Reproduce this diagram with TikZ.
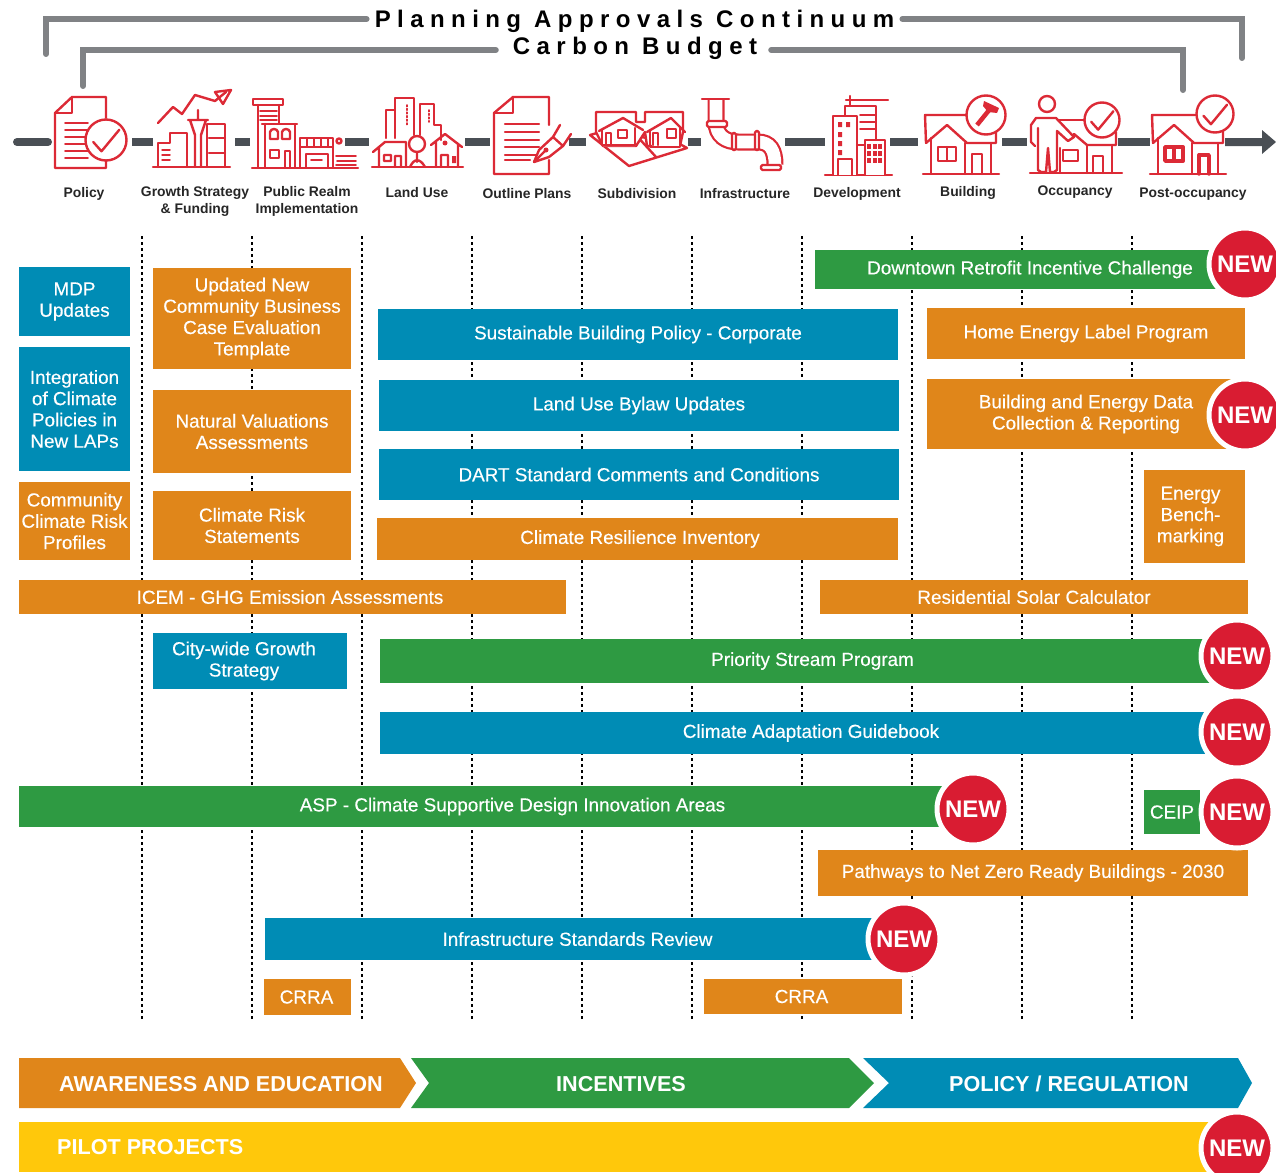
\documentclass[tikz,border=0pt]{standalone}
\usepackage{fontspec}
\setmainfont{Liberation Sans}
\newfontfamily\spaced[LetterSpace=26.8]{Liberation Sans}
\newfontfamily\barfont[FakeBold=0.3]{Liberation Sans}
\definecolor{cOrange}{HTML}{E0861A}
\definecolor{cBlue}{HTML}{008CB5}
\definecolor{cGreen}{HTML}{2E9A42}
\definecolor{cRed}{HTML}{D91C32}
\definecolor{cYellow}{HTML}{FFC80B}
\definecolor{cGrey}{HTML}{808285}
\definecolor{cDark}{HTML}{4A4F55}
\definecolor{cIcon}{HTML}{DC2A36}
\newcommand\fs[2]{\fontsize{#1}{#2}\selectfont}
\tikzset{
  x=1pt,y=-1pt,
  bar/.style={inner sep=0pt,text=white,align=center,font=\fs{18.9}{21.3}\barfont},
  badge/.style={circle,fill=cRed,draw=white,line width=5pt,minimum size=72pt,inner sep=0pt,text=white,font=\fs{24}{24}\bfseries},
  stage/.style={align=center,font=\fs{13.9}{17}\bfseries,text=black!85,inner sep=0pt},
  head/.style={font=\fs{24}{24}\bfseries\spaced,inner sep=0pt,text=black},
  bracket/.style={draw=cGrey,line width=6pt,line cap=round},
  seg/.style={draw=cDark,line width=8pt},
  dots/.style={draw=black,line width=2.8pt,dash pattern=on 3pt off 3pt},
  icon/.style={draw=cIcon,line width=2.4pt,line join=round,line cap=round},
  chev/.style={text=white,font=\fs{21.6}{24}\bfseries,inner sep=0pt},
}
\newcommand\bx[7]{%
  \pgfmathsetmacro\bw{#4-#2}\pgfmathsetmacro\bh{#5-#3}%
  \pgfmathsetmacro\cx{(#2+#4)/2}\pgfmathsetmacro\cy{(#3+#5)/2}%
  \node[bar,fill=#6,minimum width=\bw pt,minimum height=\bh pt] (#1) at (\cx,\cy) {#7};}
\newcommand\chk[3]{%
  \draw[icon,fill=white] (#1,#2) circle (#3);
  \draw[icon] (#1-#3*0.62,#2+#3*0.1) -- (#1-#3*0.22,#2+#3*0.55) -- (#1+#3*0.65,#2-#3*0.5);}
\newcommand\gable{%
  \draw[icon] (923,174) -- (999,174);
  \draw[icon] (926,143) -- (925,115) -- (972,115);
  \draw[icon] (926,143) -- (947,125) -- (967,143) -- (996,143) -- (996,130);
  \draw[icon] (931,138) -- (931,174) (991,143) -- (991,174) (965,143) -- (965,174);
  \draw[icon] (938,147) rectangle (956,161) (947,147) -- (947,161);
  \draw[icon] (972,174) -- (972,154) -- (982,154) -- (982,174);}
\begin{document}
\begin{tikzpicture}
\useasboundingbox (0,0) rectangle (1276,1172);
% vertical dotted guides
\foreach \gx in {142,252,362,472,582,692,802,912,1022,1132}
  \draw[dots] (\gx,236) -- (\gx,1020);
% headings and brackets
\node[head] (plan) at (634.5,21.5) {Planning Approvals Continuum};
\node[head] (carbon) at (635,48.5) {Carbon Budget};
\coordinate (pl) at (46,54);
\coordinate (pr) at (1242,58);
\coordinate (cl) at (83,86);
\coordinate (cr) at (1183,90);
\draw[bracket] (pl) |- ([xshift=-8pt,yshift=2.5pt]plan.west);
\draw[bracket] (pr) |- ([xshift=8pt,yshift=2.5pt]plan.east);
\draw[bracket] (cl) |- ([xshift=-17pt,yshift=-1.5pt]carbon.west);
\draw[bracket] (cr) |- ([xshift=14pt,yshift=-1.5pt]carbon.east);
% timeline
\draw[seg,line cap=round] (17,142) -- (48,142);
\foreach \a/\b in {132/153,235/250,345/369,465/490,569/586,688/701,785/825,890/918,1002/1027,1118/1150}
  \draw[seg] (\a,142) -- (\b,142);
\fill[cDark] (1225,138) -- (1262,138) -- (1262,130) -- (1276,142) -- (1262,154) -- (1262,146) -- (1225,146) -- cycle;
% Policy icon
\draw[icon] (106,118) -- (106,97) -- (72,97) -- (55,113) -- (55,168) -- (106,168) -- (106,160);
\draw[icon] (72,97) -- (72,113) -- (55,113);
\foreach \ly in {123,130,137,144,151,158} \draw[icon,line width=1.6pt] (65,\ly) -- (88,\ly);
\chk{106}{140}{20.5}
% Growth icon
\draw[icon] (158,123) -- (173,107) -- (182,114) -- (195,95) -- (215,101) -- (226,92);
\draw[icon] (215,92) -- (231,90) -- (223,104) -- cycle;
\draw[icon] (153,167) -- (230,167);
\draw[icon] (158,167) -- (158,143) -- (170,143) -- (170,133) -- (187,133) -- (187,167);
\draw[icon,line width=1.5pt] (162,150) -- (170,150) (162,155) -- (170,155) (162,160) -- (170,160);
\draw[icon] (188,120) -- (208,120) (198,110) -- (198,120) (190,120) -- (195,135) -- (195,167) (206,120) -- (201,135) -- (201,167);
\draw[icon] (207,167) -- (207,124) -- (225,124) -- (225,167);
\draw[icon] (209,138) -- (225,138) (209,153) -- (225,153);
% Public realm icon
\draw[icon] (253,99) rectangle (283,105);
\draw[icon] (258,105) -- (258,167) (279,105) -- (279,123);
\draw[icon,line width=1.6pt] (260,111) -- (277,111) (260,116) -- (277,116) (260,120) -- (277,120);
\draw[icon] (262,124) -- (297,124) (265,124) -- (265,167) (295,124) -- (295,167);
\draw[icon] (270,139) -- (270,132) .. controls (271,128) and (277,128) .. (278,132) -- (278,139) -- cycle;
\draw[icon] (282,139) -- (282,132) .. controls (283,128) and (289,128) .. (290,132) -- (290,139) -- cycle;
\draw[icon] (270,150) rectangle (279,158) (285,167) -- (285,151) -- (290,151) -- (290,167);
\draw[icon] (300,138) rectangle (333,147);
\foreach \vx in {307,314,321,328} \draw[icon,line width=1.6pt] (\vx,138) -- (\vx,147);
\draw[icon] (339,141) circle (2.5);
\draw[icon] (300,147) -- (300,167) (333,147) -- (333,167);
\draw[icon,line width=1.6pt] (306,167) -- (306,154) -- (328,154) -- (328,167) (311,160) -- (322,160);
\draw[icon,line width=1.7pt] (336,156) -- (356,156) (337,161) -- (356,161) (336,165) -- (356,165);
\draw[icon] (252,168) -- (358,168);
% Land use icon
\draw[icon] (372,167) -- (463,167);
\draw[icon] (386,138) -- (386,110) -- (395,110) (403,98) -- (414,98) -- (414,135) (395,138) -- (395,98) -- (403,98);
\draw[icon] (420,135) -- (420,104) -- (434,104) -- (434,125) -- (441,125) -- (441,140);
\draw[icon,line width=1.6pt,dotted] (407,105) -- (407,125) (429,110) -- (429,122);
\draw[icon] (373,152) -- (385,142) -- (406,142) -- (406,167) (379,147) -- (379,167) (384,155) rectangle (391,161) (395,167) -- (395,156) -- (401,156) -- (401,167);
\draw[icon] (417,144) circle (8) (417,152) -- (417,162) (410,167) .. controls (414,158) and (420,158) .. (425,167);
\draw[icon] (431,145) -- (445,134) -- (462,147) (436,142) -- (436,167) (458,145) -- (458,167) (441,167) -- (441,155) -- (448,155) -- (448,167);
\fill[cIcon] (445,143) circle (2.5) (452,156) rectangle (456,163);
% Outline plans icon
\draw[icon] (549,160) -- (549,174) -- (494,174) -- (494,113) -- (513,97) -- (549,97) -- (549,125);
\draw[icon] (513,97) -- (513,113) -- (494,113);
\foreach \ly in {124,132,140,147,155} \draw[icon] (505,\ly) -- (539,\ly);
\draw[icon] (505,160) -- (530,160);
\draw[icon,fill=white] (534,162) -- (539,150) -- (553,137) -- (563,146) -- (549,157) -- cycle;
\draw[icon] (534,162) -- (546,150) (553,137) -- (560,125) (563,146) -- (571,134);
\fill[cIcon] (546,150) circle (2.5);
% Subdivision icon
\draw[icon,fill=white] (590,135) -- (629,166) -- (687,148) -- (678,143) -- (604,131) -- cycle;
\draw[icon] (635,134) -- (656,157);
\draw[icon,fill=white] (596,132) -- (596,112) -- (636,112) -- (636,122) -- (645,122) -- (645,112) -- (683,112) -- (683,132) -- (680,146) -- (647,146) -- (645,132) -- (636,146) -- (603,146) -- cycle;
\fill[white] (603,134) rectangle (635,146) (652,134) rectangle (680,146);
\draw[icon] (599,131) -- (623,118) -- (643,130) (647,132) -- (671,118) -- (685,132);
\draw[icon] (602,130) -- (602,145) -- (635,145) -- (635,128);
\draw[icon] (650,130) -- (650,147) -- (680,147) -- (680,128);
\draw[icon] (606,145) -- (606,133) -- (611,133) -- (611,145) (653,145) -- (653,133) -- (658,133) -- (658,145);
\draw[icon] (618,130) rectangle (627,138) (667,129) rectangle (676,138);
% Infrastructure icon
\draw[draw=cIcon,line width=17pt] (716,100) -- (716,122) .. controls (716,136) and (726,142) .. (738,142) -- (758,142) .. controls (770,142) and (775,150) .. (775,165);
\draw[draw=white,line width=12.6pt] (716,100) -- (716,122) .. controls (716,136) and (726,142) .. (738,142) -- (758,142) .. controls (770,142) and (775,150) .. (775,165);
\draw[icon] (702,99) -- (729,99);
\draw[icon,fill=white,rounded corners=1.5pt] (707,121) rectangle (727,127);
\draw[icon,fill=white,rounded corners=1.5pt] (732,133) rectangle (736,150);
\draw[icon,fill=white,rounded corners=1.5pt] (755,131) rectangle (759,150);
\draw[icon,fill=white,rounded corners=1.5pt] (761,165) rectangle (781,170);
% Development icon
\draw[icon] (825,175) -- (892,175);
\draw[icon] (850,96) -- (850,105) (846,100) -- (888,100);
\draw[icon] (845,115) -- (845,106) -- (876,106) -- (876,140);
\draw[icon,line width=1.7pt] (860,115) -- (876,115) (860,122) -- (876,122) (860,129) -- (876,129);
\draw[icon,fill=white] (833,175) -- (833,116) -- (857,116) -- (857,175);
\fill[cIcon] (838,122) rectangle (842,127) (846,122) rectangle (850,127) (838,132) rectangle (842,137) (838,141) rectangle (842,146) (838,150) rectangle (842,155);
\draw[icon] (838,175) -- (838,159) -- (852,159) -- (852,175);
\draw[icon] (857,145) -- (866,145);
\draw[icon,fill=white] (865,175) -- (865,140) -- (885,140) -- (885,175);
\foreach \wy in {146,153,160} \foreach \wx in {869,875,880} \fill[cIcon] (\wx-2,\wy-2) rectangle (\wx+2,\wy+3);
% Building icon
\gable
\draw[icon,fill=white] (986,115) circle (19.5);
\draw[draw=cIcon,line width=4.5pt] (977,125) -- (990,109);
\fill[cIcon] (984,101) -- (999,108) -- (997,113) -- (988,112) -- (983,106) -- cycle;
% Occupancy icon
\draw[icon] (1030,173) -- (1122,173);
\draw[icon] (1057,120) -- (1088,120);
\draw[icon] (1074,134) -- (1087,145) -- (1116,145) -- (1116,132);
\draw[icon] (1060,148) -- (1060,172) (1087,145) -- (1087,173) (1112,145) -- (1112,173);
\draw[icon] (1063,150) rectangle (1078,161);
\draw[icon] (1093,173) -- (1093,156) -- (1103,156) -- (1103,173);
\draw[icon,fill=white] (1047,104) circle (8);
\draw[icon,fill=white] (1035,146) -- (1031,142) -- (1031,125) -- (1036,118) -- (1056,118) -- (1074,137) -- (1068,141) -- (1057,131) -- (1057,170) -- (1054,172) -- (1050,172) -- (1048,148) -- (1046,172) -- (1041,172) -- (1038,170) -- (1038,128);
\chk{1102}{120}{17.5}
% Post-occupancy icon
\begin{scope}[shift={(227,0)}]
\gable
\draw[icon,line width=3.8pt] (938,147) rectangle (956,161) (947,147) -- (947,161);
\draw[icon,line width=3.4pt] (972,174) -- (972,155) -- (982,155) -- (982,174);
\end{scope}
\chk{1215}{114}{18.5}
% stage labels
\node[stage] (s1) at (84,194) {Policy};
\node[stage] (s2) at (195,201) {Growth Strategy\\\& Funding};
\node[stage] (s3) at (307,201) {Public Realm\\Implementation};
\node[stage] (s4) at (417,192.5) {Land Use};
\node[stage] (s5) at (527,194) {Outline Plans};
\node[stage] (s6) at (637,194) {Subdivision};
\node[stage] (s7) at (745,194) {Infrastructure};
\node[stage] (s8) at (857,194) {Development};
\node[stage] (s9) at (968,192.5) {Building};
\node[stage] (s10) at (1075,192.5) {Occupancy};
\node[stage] (s11) at (1193,194) {Post-occupancy};
% bars
\bx{b1}{19}{267}{130}{336}{cBlue}{MDP\\Updates}
\bx{b2}{19}{347}{130}{471}{cBlue}{Integration\\of Climate\\Policies in\\New LAPs}
\bx{b3}{19}{482}{130}{560}{cOrange}{Community\\Climate Risk\\Profiles}
\bx{b4}{153}{268}{351}{369}{cOrange}{Updated New\\Community Business\\Case Evaluation\\Template}
\bx{b5}{153}{390}{351}{473}{cOrange}{Natural Valuations\\Assessments}
\bx{b6}{153}{491}{351}{560}{cOrange}{Climate Risk\\Statements}
\bx{b7}{19}{580}{566}{614}{cOrange}{\hspace*{-5pt}ICEM - GHG Emission Assessments}
\bx{b8}{153}{633}{347}{689}{cBlue}{\hspace*{-12pt}City-wide Growth\\\hspace*{-12pt}Strategy}
\bx{b9}{820}{580}{1248}{614}{cOrange}{Residential Solar Calculator}
\bx{b10}{815}{250}{1245}{289}{cGreen}{Downtown Retrofit Incentive Challenge}
\bx{b11}{378}{309}{898}{360}{cBlue}{Sustainable Building Policy - Corporate}
\bx{b12}{927}{308}{1245}{359}{cOrange}{Home Energy Label Program}
\bx{b13}{379}{380}{899}{431}{cBlue}{Land Use Bylaw Updates}
\bx{b14}{927}{379}{1245}{449}{cOrange}{Building and Energy Data\\Collection \& Reporting}
\bx{b15}{379}{449}{899}{500}{cBlue}{DART Standard Comments and Conditions}
\bx{b16}{377}{518}{898}{560}{cOrange}{\hspace*{5pt}Climate Resilience Inventory}
\bx{b17}{1144}{470}{1245}{563}{cOrange}{\hspace*{-8pt}Energy\\\hspace*{-8pt}Bench-\\\hspace*{-8pt}marking}
\bx{b18}{380}{639}{1245}{683}{cGreen}{Priority Stream Program}
\bx{b19}{380}{712}{1242}{754}{cBlue}{Climate Adaptation Guidebook}
\bx{b20}{19}{786}{1000}{827}{cGreen}{\hspace*{6pt}ASP - Climate Supportive Design Innovation Areas}
\bx{b21}{1144}{790}{1200}{834}{cGreen}{CEIP}
\bx{b22}{818}{850}{1248}{896}{cOrange}{Pathways to Net Zero Ready Buildings - 2030}
\bx{b23}{265}{918}{890}{960}{cBlue}{Infrastructure Standards Review}
\bx{b24}{264}{979}{351}{1015}{cOrange}{\hspace*{-2pt}CRRA}
\bx{b25}{704}{979}{902}{1014}{cOrange}{\hspace*{-3pt}CRRA}
% bottom bands
\fill[cOrange] (19,1058) -- (400,1058) -- (416,1083) -- (400,1108) -- (19,1108) -- cycle;
\fill[cGreen] (411,1058) -- (849,1058) -- (874,1083) -- (849,1108) -- (411,1108) -- (429,1083) -- cycle;
\fill[cBlue] (863,1058) -- (1238,1058) -- (1252,1083) -- (1238,1108) -- (863,1108) -- (889,1083) -- cycle;
\fill[cYellow] (19,1122) rectangle (1245,1172);
\node[chev] (c1) at (221,1084) {AWARENESS AND EDUCATION};
\node[chev] (c2) at (621,1084) {INCENTIVES};
\node[chev] (c3) at (1069,1084) {POLICY / REGULATION};
\node[chev,anchor=west] (c4) at (57,1147) {PILOT PROJECTS};
% badges
\node[badge] (n1) at (1245,264) {NEW};
\node[badge] (n2) at (1245,415) {NEW};
\node[badge] (n3) at (1237,656) {NEW};
\node[badge] (n4) at (1237,732) {NEW};
\node[badge] (n5) at (973,809) {NEW};
\node[badge] (n6) at (1237,812) {NEW};
\node[badge] (n7) at (904,939) {NEW};
\node[badge] (n8) at (1237,1148) {NEW};
\end{tikzpicture}
\end{document}
